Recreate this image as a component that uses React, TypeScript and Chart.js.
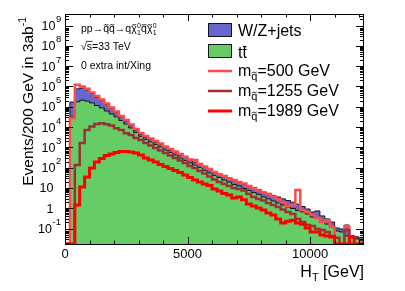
import React, { useEffect, useRef } from 'react';
import { Chart, registerables } from 'chart.js';

Chart.register(...registerables);

// H_T bin edges [GeV], 200 GeV bins
const htBinEdges = [
  0, 200, 400, 600, 800, 1000, 1200, 1400, 1600, 1800, 2000, 2200, 2400, 2600, 2800, 3000,
  3200, 3400, 3600, 3800, 4000, 4200, 4400, 4600, 4800, 5000, 5200, 5400, 5600, 5800, 6000,
  6200, 6400, 6600, 6800, 7000, 7200, 7400, 7600, 7800, 8000, 8200, 8400, 8600, 8800, 9000,
  9200, 9400, 9600, 9800, 10000, 10200, 10400, 10600, 10800, 11000, 11200, 11400, 11600, 11800,
  12000, 12200,
];

const ttbar = [
  0, 3.2e4, 1.75e5, 2.1e5, 1.9e5, 1.55e5, 1.15e5, 8.7e4, 6.2e4, 4.4e4, 3.2e4, 2.1e4, 1.4e4, 9.0e3,
  5.4e3, 3.5e3, 2450, 1830, 1380, 1040, 740, 560, 420, 300, 225, 170, 135, 102, 73, 55, 41, 33,
  24.5, 19.5, 14.7, 12.5, 9.4, 7.5, 6.0, 4.8, 3.6, 2.9, 2.3, 1.8, 1.45, 1.15, 0.97, 0.77, 0.66,
  0.52, 0.37, 0.33, 0.21, 0.166, 0.118, 0.076, 0.068, 0.043, 0.035, 0.031, 0.025,
];

const wzJets = [
  0, 1.38e5, 5.85e5, 6.2e5, 4.9e5, 2.95e5, 1.85e5, 1.18e5, 6.8e4, 3.9e4, 2.1e4, 1.1e4, 6000, 3000,
  1800, 1100, 750, 620, 420, 340, 310, 180, 170, 120, 95, 70, 55, 43, 35, 26, 21, 16, 12.5, 11.5,
  8.8, 7.0, 6.4, 5.7, 4.5, 3.5, 2.7, 2.5, 2.0, 1.8, 1.45, 1.25, 1.03, 0.83, 0.56, 0.4, 0.29, 0.41,
  0.21, 0.134, 0.092, 0.031, 0.027, 0.107, 0.009, 0.008, 0.006,
];

const sig500 = [
  0, 2.8e4, 1.2e6, 1.0e6, 7.6e5, 5.0e5, 3.4e5, 2.3e5, 1.45e5, 9.2e4, 5.9e4, 3.5e4, 2.2e4, 1.35e4,
  8000, 5100, 3600, 2700, 2050, 1550, 1100, 830, 630, 470, 340, 250, 240, 150, 115, 87, 62, 46, 39,
  29, 25, 19.5, 16.6, 12.6, 10, 7.6, 6.0, 5.0, 3.8, 2.9, 2.0, 1.3, 1.45, 8.0, 0.83, 0.66, 0.47,
  0.33, 0.21, 0.26, 0.12, 0, 0, 0.13, 0, 0, 0,
];

const sig1255 = [
  0, 0, 135, 1650, 7200, 1.05e4, 1.4e4, 1.55e4, 1.38e4, 1.18e4, 8700, 7200, 4900, 4100, 2900, 2300,
  1650, 1230, 930, 710, 530, 400, 300, 225, 170, 120, 96, 69, 52, 37, 26, 19.5, 15.8, 12.6, 10,
  8.9, 7.6, 5.0, 3.6, 2.9, 2.4, 1.8, 1.45, 1.15, 0.87, 0.66, 0.52, 0.3, 0.21, 0.15, 0.135, 0.095,
  0.085, 0.068, 0.043, 0.035, 0, 0.085, 0, 0, 0,
];

const sig1989 = [
  0, 0, 1.45, 11, 35, 96, 190, 280, 400, 470, 560, 630, 630, 590, 530, 420, 300, 240, 190, 145,
  115, 91, 73, 58, 44, 33, 24.5, 19.5, 15.8, 13.2, 8.9, 7.1, 5.4, 4.5, 3.2, 3.6, 2.6, 1.6, 1.3,
  1.02, 0.83, 0.59, 0.47, 0.3, 0.19, 0.23, 0.26, 0.19, 0.165, 0.107, 0.068, 0.068, 0.048, 0.043,
  0.038, 0, 0, 0, 0.038, 0, 0,
];

const squarkMasses = [500, 1255, 1989];
const yDecades = [-1, 0, 1, 2, 3, 4, 5, 6, 7, 8, 9];
const xMajorTicks = [0, 5000, 10000];
const xMinorTicks = [1000, 2000, 3000, 4000, 6000, 7000, 8000, 9000, 11000, 12000];
const xTickLabels = ['0', '5000', '10000'];

const X_MIN = 0;
const X_MAX = 12200;
const Y_MIN = 0.01738;
const Y_MAX = 3.7e9;

const C_WZ = '#6666cc';
const C_TT = '#66cc66';
const C_EDGE = '#151515';
const C_500 = '#ff4a4a';
const C_1255 = '#993333';
const C_1989 = '#ff0000';

const FF = '"Liberation Sans", Arial, Helvetica, sans-serif';
const f = (s: number) => `${s}px ${FF}`;

function hist(values: number[]) {
  const pts = values.map((v, i) => ({ x: htBinEdges[i], y: v > 0 ? v : Y_MIN }));
  const last = values[values.length - 1];
  pts.push({ x: htBinEdges[values.length], y: last > 0 ? last : Y_MIN });
  return pts;
}

type Piece = {
  t: string;
  size: number;
  dy?: number;
  accent?: 'tilde' | 'bar';
  sub?: string;
  sup?: string;
  ss?: number;
};

function pieceWidth(ctx: CanvasRenderingContext2D, p: Piece) {
  ctx.font = f(p.size);
  let w = ctx.measureText(p.t).width;
  if (p.sub || p.sup) {
    ctx.font = f(p.ss || p.size * 0.65);
    const a = p.sub ? ctx.measureText(p.sub).width : 0;
    const b = p.sup ? ctx.measureText(p.sup).width : 0;
    w += Math.max(a, b) + 0.5;
  }
  return w;
}

function richWidth(ctx: CanvasRenderingContext2D, pieces: Piece[]) {
  return pieces.reduce((s, p) => s + pieceWidth(ctx, p), 0);
}

function drawRich(ctx: CanvasRenderingContext2D, x0: number, y: number, pieces: Piece[]) {
  let x = x0;
  for (const p of pieces) {
    const by = y + (p.dy || 0);
    ctx.font = f(p.size);
    ctx.textAlign = 'left';
    ctx.textBaseline = 'alphabetic';
    ctx.fillText(p.t, x, by);
    const tw = ctx.measureText(p.t).width;
    if (p.accent) {
      const ay = by - p.size * 0.68;
      ctx.save();
      ctx.lineWidth = Math.max(0.8, p.size * 0.08);
      ctx.strokeStyle = '#000';
      ctx.beginPath();
      if (p.accent === 'tilde') {
        const cx = x + tw / 2;
        const hw = Math.max(2, tw * 0.36);
        ctx.moveTo(cx - hw, ay + 0.8);
        ctx.quadraticCurveTo(cx - hw / 2, ay - 1.4, cx, ay);
        ctx.quadraticCurveTo(cx + hw / 2, ay + 1.4, cx + hw, ay - 0.8);
      } else {
        ctx.moveTo(x + 0.5, ay);
        ctx.lineTo(x + tw - 0.5, ay);
      }
      ctx.stroke();
      ctx.restore();
    }
    let w = tw;
    if (p.sub || p.sup) {
      const ss = p.ss || p.size * 0.65;
      ctx.font = f(ss);
      let sw = 0;
      if (p.sup) {
        ctx.fillText(p.sup, x + tw + 0.3, by - p.size * 0.42);
        sw = Math.max(sw, ctx.measureText(p.sup).width);
      }
      if (p.sub) {
        ctx.fillText(p.sub, x + tw + 0.3, by + p.size * 0.28);
        sw = Math.max(sw, ctx.measureText(p.sub).width);
      }
      w += sw + 0.5;
    }
    x += w;
  }
  return x;
}

const decorPlugin = {
  id: 'rootDecor',
  afterDraw(chart: any) {
    const ctx: CanvasRenderingContext2D = chart.ctx;
    const xs = chart.scales.x;
    const ys = chart.scales.y;
    const { left, right, top, bottom } = chart.chartArea;
    ctx.save();
    ctx.fillStyle = '#000';
    ctx.strokeStyle = '#000';
    ctx.lineWidth = 1;

    // frame
    ctx.strokeRect(Math.round(left) + 0.5, Math.round(top) + 0.5, Math.round(right - left) - 1, Math.round(bottom - top));

    // x ticks (bottom and top, inward)
    ctx.beginPath();
    const xt = (v: number, len: number) => {
      const px = Math.round(xs.getPixelForValue(v)) + 0.5;
      ctx.moveTo(px, bottom);
      ctx.lineTo(px, bottom - len);
      ctx.moveTo(px, top);
      ctx.lineTo(px, top + len);
    };
    xMajorTicks.forEach((v) => xt(v, 7));
    xMinorTicks.forEach((v) => xt(v, 3.5));
    // y ticks (left and right, inward)
    const yt = (v: number, len: number) => {
      const py = Math.round(ys.getPixelForValue(v)) + 0.5;
      if (py < top - 0.5 || py > bottom + 0.5) return;
      ctx.moveTo(left, py);
      ctx.lineTo(left + len, py);
      ctx.moveTo(right, py);
      ctx.lineTo(right - len, py);
    };
    yDecades.forEach((n) => yt(Math.pow(10, n), 8));
    for (let n = -2; n <= 9; n++) {
      for (let k = 2; k <= 9; k++) {
        const v = k * Math.pow(10, n);
        if (v > Y_MIN && v < Y_MAX) yt(v, 4);
      }
    }
    ctx.stroke();

    // x labels
    ctx.font = f(13);
    ctx.textAlign = 'center';
    ctx.textBaseline = 'alphabetic';
    xMajorTicks.forEach((v, i) => {
      ctx.fillText(xTickLabels[i], xs.getPixelForValue(v), 258);
    });

    // y labels
    yDecades.forEach((n) => {
      const py = ys.getPixelForValue(Math.pow(10, n));
      ctx.font = f(12.5);
      ctx.textAlign = 'right';
      if (n === 0) {
        ctx.fillText('1', 53.5, py + 4.5);
      } else if (n === 1) {
        ctx.fillText('10', 53.5, py + 4.5);
      } else if (n === -1) {
        ctx.fillText('10', 52, py + 4.5);
        ctx.font = f(9.5);
        ctx.textAlign = 'left';
        ctx.fillText('-1', 52.5, py - 3.5);
      } else {
        ctx.fillText('10', 55.5, py + 4.5);
        ctx.font = f(9.5);
        ctx.textAlign = 'left';
        ctx.fillText(String(n), 56, py - 3.5);
      }
    });

    // axis titles
    const xTitle: Piece[] = [
      { t: 'H', size: 16 },
      { t: 'T', size: 11, dy: 4 },
      { t: ' [GeV]', size: 16 },
    ];
    drawRich(ctx, 364 - richWidth(ctx, xTitle), 276.5, xTitle);

    const yTitle: Piece[] = [
      { t: 'Events/200 GeV in 3ab', size: 15.5 },
      { t: '-1', size: 10.5, dy: -6.5 },
    ];
    ctx.save();
    ctx.translate(32.5, 17);
    ctx.rotate(-Math.PI / 2);
    drawRich(ctx, -richWidth(ctx, yTitle), 0, yTitle);
    ctx.restore();

    // process text
    const S = 10.5;
    const line1: Piece[] = [
      { t: 'pp', size: S },
      { t: '\u2192', size: S },
      { t: 'q', size: S, accent: 'tilde' },
      { t: 'q', size: S, accent: 'tilde' },
      { t: '\u2192', size: S },
      { t: 'q', size: S },
      { t: '\u03c7', size: S, accent: 'tilde', sub: '1', sup: '0', ss: 7 },
      { t: 'q', size: S, accent: 'bar' },
      { t: '\u03c7', size: S, accent: 'tilde', sub: '1', sup: '0', ss: 7 },
    ];
    drawRich(ctx, 81, 32, line1);
    const sx = 81;
    ctx.font = f(S);
    ctx.textAlign = 'left';
    ctx.fillText('\u221a', sx, 50);
    const rw = ctx.measureText('\u221a').width;
    const swd = ctx.measureText('s').width;
    ctx.beginPath();
    ctx.lineWidth = 0.8;
    ctx.moveTo(sx + rw - 0.5, 50 - S * 0.82);
    ctx.lineTo(sx + rw + swd + 0.5, 50 - S * 0.82);
    ctx.stroke();
    ctx.fillText('s=33 TeV', sx + rw, 50);
    ctx.fillText('0 extra int/Xing', 81, 68.5);

    // legend
    const lx = 208;
    const lw = 24;
    ctx.lineWidth = 1;
    ctx.fillStyle = C_WZ;
    ctx.fillRect(lx, 23, lw, 14);
    ctx.strokeStyle = C_EDGE;
    ctx.strokeRect(lx + 0.5, 23.5, lw - 1, 13);
    ctx.fillStyle = C_TT;
    ctx.fillRect(lx, 44, lw, 14);
    ctx.strokeRect(lx + 0.5, 44.5, lw - 1, 13);
    ctx.fillStyle = '#000';
    ctx.font = f(16);
    ctx.fillText('W/Z+jets', 238, 36);
    drawRich(ctx, 238, 57.5, [{ t: 't', size: 16 }, { t: 't', size: 16, accent: 'bar' }]);

    const lineCols = [C_500, C_1255, C_1989];
    const lineW = [2.5, 2.5, 3];
    const rowsY = [71, 91, 111];
    squarkMasses.forEach((m, i) => {
      ctx.strokeStyle = lineCols[i];
      ctx.lineWidth = lineW[i];
      ctx.beginPath();
      ctx.moveTo(lx, rowsY[i]);
      ctx.lineTo(lx + lw, rowsY[i]);
      ctx.stroke();
      ctx.fillStyle = '#000';
      ctx.strokeStyle = '#000';
      drawRich(ctx, 238, rowsY[i] + 4.5, [
        { t: 'm', size: 16 },
        { t: 'q', size: 11, dy: 4.5, accent: 'tilde' },
        { t: ` =${m} GeV`.slice(1), size: 16 },
      ]);
    });
    ctx.restore();
  },
};

export default function App() {
  const ref = useRef<HTMLCanvasElement>(null);
  useEffect(() => {
    const canvas = ref.current;
    if (!canvas) return;
    const total = ttbar.map((v, i) => v + wzJets[i]);
    const common = { stepped: true, pointRadius: 0, tension: 0, borderJoinStyle: 'miter' as const };
    const chart = new Chart(canvas, {
      type: 'line',
      data: {
        datasets: [
          { ...common, label: 'm=1989', data: hist(sig1989), borderColor: C_1989, borderWidth: 3, fill: false },
          { ...common, label: 'm=1255', data: hist(sig1255), borderColor: C_1255, borderWidth: 2.5, fill: false },
          { ...common, label: 'm=500', data: hist(sig500), borderColor: C_500, borderWidth: 2.5, fill: false },
          { ...common, label: 'ttbar', data: hist(ttbar), borderColor: C_EDGE, borderWidth: 1, backgroundColor: C_TT, fill: 'start' },
          { ...common, label: 'W/Z+jets', data: hist(total), borderColor: C_EDGE, borderWidth: 1, backgroundColor: C_WZ, fill: 'start' },
        ] as any,
      },
      options: {
        responsive: false,
        animation: false,
        devicePixelRatio: 1,
        parsing: { xAxisKey: 'x', yAxisKey: 'y' },
        layout: { padding: { left: 65, top: 14, right: 41, bottom: 47 } },
        scales: {
          x: { type: 'linear', min: X_MIN, max: X_MAX, bounds: 'data', display: false },
          y: { type: 'logarithmic', min: Y_MIN, max: Y_MAX, bounds: 'data', display: false },
        },
        plugins: { legend: { display: false }, tooltip: { enabled: false } },
        events: [],
      } as any,
      plugins: [decorPlugin],
    });
    return () => chart.destroy();
  }, []);
  return (
    <div style={{ position: 'fixed', left: 0, top: 0, width: 405, height: 291, background: '#fff' }}>
      <canvas ref={ref} width={405} height={291} style={{ width: 405, height: 291, display: 'block' }} />
    </div>
  );
}
